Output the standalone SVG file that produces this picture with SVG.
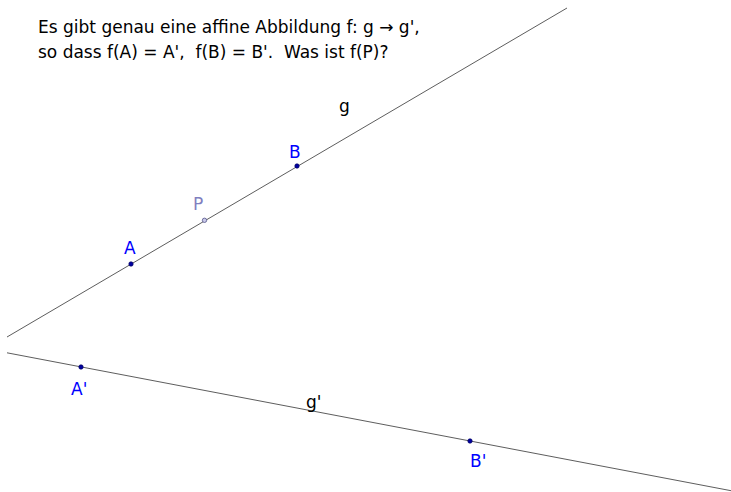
<svg xmlns="http://www.w3.org/2000/svg" width="731" height="492" viewBox="0 0 731 492">
<style>
text{font-family:"DejaVu Sans",sans-serif;font-size:17px}
.ln{stroke:#333;stroke-width:0.8;fill:none}
.pt{fill:#0000a0;stroke:#000060;stroke-width:0.7}
.lbl{fill:#0000ff}
</style>
<rect width="731" height="492" fill="#fff"/>
<g id="title">
<text x="38" y="33">Es gibt genau eine affine Abbildung f: g → g',</text>
<text x="38" y="58" xml:space="preserve">so dass f(A) = A',  f(B) = B'.  Was ist f(P)?</text>
</g>
<g id="connectors">
<line class="ln" x1="7" y1="337" x2="567" y2="8"/>
<line class="ln" x1="7" y1="352.8" x2="731" y2="490.7"/>
</g>
<g id="g"><text x="339" y="112">g</text></g>
<g id="gprime"><text x="306" y="408">g'</text></g>
<g id="A"><circle class="pt" cx="131" cy="264" r="2.2"/><text class="lbl" x="124" y="254">A</text></g>
<g id="B"><circle class="pt" cx="297" cy="166" r="2.2"/><text class="lbl" x="289" y="158">B</text></g>
<g id="P"><circle cx="204.5" cy="220.3" r="2.2" fill="#c8c8e8" stroke="#55558a" stroke-width="0.8"/><text x="193" y="210" fill="#7f7fbf">P</text></g>
<g id="A1"><circle class="pt" cx="81" cy="367" r="2.2"/><text class="lbl" x="71" y="395">A'</text></g>
<g id="B1"><circle class="pt" cx="470" cy="441" r="2.2"/><text class="lbl" x="470" y="467">B'</text></g>
</svg>
